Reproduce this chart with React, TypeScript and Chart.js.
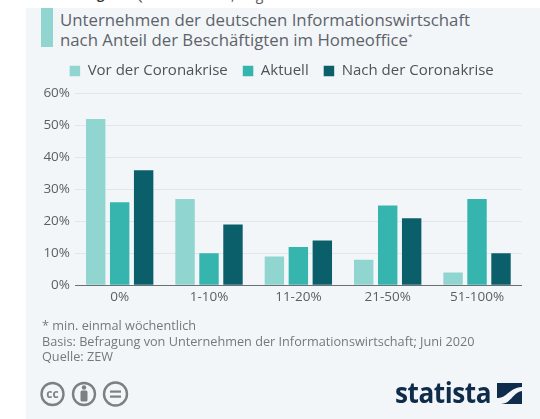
import React, { useEffect, useRef } from "react";
import { Chart, registerables } from "chart.js";

Chart.register(...registerables);

const categories = ["0%", "1-10%", "11-20%", "21-50%", "51-100%"];
const vorDerKrise = [52, 27, 9, 8, 4];
const aktuell = [26, 10, 12, 25, 27];
const nachDerKrise = [36, 19, 14, 21, 10];
const seriesNames = ["Vor der Coronakrise", "Aktuell", "Nach der Coronakrise"];
const titleLines = ["Unternehmen der deutschen Informationswirtschaft", "nach Anteil der Beschäftigten im Homeoffice"];
const footLines = ["* min. einmal wöchentlich", "Basis: Befragung von Unternehmen der Informationswirtschaft; Juni 2020", "Quelle: ZEW"];

const FONT = "'Open Sans', sans-serif";
const abs = (s: React.CSSProperties): React.CSSProperties => ({ position: "absolute", whiteSpace: "nowrap", ...s });

const legendHeight = {
  id: "legendHeight",
  beforeLayout(c: any) {
    const l = c.legend;
    if (!l || l.__patched) return;
    const fit = l.fit;
    l.fit = function () {
      fit.call(this);
      this.height = 45;
    };
    l.__patched = true;
  },
};

export default function App() {
  const ref = useRef<HTMLCanvasElement>(null);
  useEffect(() => {
    const chart = new Chart(ref.current!, {
      type: "bar",
      plugins: [legendHeight],
      data: {
        labels: categories,
        datasets: [
          { label: seriesNames[0], data: vorDerKrise, backgroundColor: "#90d5d0" },
          { label: seriesNames[1], data: aktuell, backgroundColor: "#36b5ae" },
          { label: seriesNames[2], data: nachDerKrise, backgroundColor: "#0b5f6b" },
        ],
      },
      options: {
        responsive: false,
        animation: false,
        layout: { padding: { left: 41.7, right: 18.3, top: 48.5, bottom: 109.5 } },
        datasets: { bar: { categoryPercentage: 0.805, barPercentage: 0.81 } },
        plugins: {
          tooltip: { enabled: false },
          legend: {
            display: true,
            position: "top",
            labels: {
              boxWidth: 10.5,
              boxHeight: 10.5,
              padding: 15,
              color: "#4d5359",
              font: { family: FONT, size: 15 },
            },
          },
        },
        scales: {
          x: {
            grid: { display: false, drawTicks: false },
            border: { color: "#6b7075", width: 1 },
            ticks: { color: "#5a5f64", font: { family: FONT, size: 13.5 }, padding: 4, maxRotation: 0 },
          },
          y: {
            min: 0,
            max: 60,
            afterFit: (s: any) => { s.width = 33.3; },
            grid: { color: "#e2e6ea", drawTicks: false },
            border: { display: false },
            ticks: {
              stepSize: 10,
              color: "#5a5f64",
              padding: 5,
              font: { family: FONT, size: 13.5 },
              callback: (v: any) => v + "%",
            },
          },
        },
      },
    } as any);
    return () => chart.destroy();
  }, []);

  return (
    <div style={{ position: "absolute", left: 0, top: 0, width: 540, height: 419, overflow: "hidden", background: "#fff", fontFamily: FONT, filter: "blur(0.55px)" }}>
      <div style={abs({ left: 24, top: -15, fontSize: 13, fontWeight: 700, color: "#333" })}>ZEW-Umfrage:</div>
      <div style={abs({ left: 133, top: -15, fontSize: 14, color: "#555" })}>Quelle: Statista, August 2020</div>
      <div style={abs({ left: 26, top: 8, width: 514, height: 411, background: "#f3f6f9" })} />
      <div style={abs({ left: 41, top: 8, width: 12, height: 39, background: "#90d5d0" })} />
      {titleLines.map((t, i) => (
        <div key={i} style={abs({ left: 60, top: 10 + i * 20, fontSize: 16.8, lineHeight: "20px", color: "#5d6369" })}>
          {t}{i === 1 ? <sup style={{ fontSize: 8, lineHeight: 0 }}>*</sup> : null}
        </div>
      ))}
      <canvas ref={ref} width={540} height={419} style={{ position: "absolute", left: 0, top: 0, display: "block" }} />
      {footLines.map((t, i) => (
        <div key={i} style={abs({ left: 42, top: 318 + i * 15.5, fontSize: 12.7, lineHeight: "15px", color: "#74797e" })}>{t}</div>
      ))}
      <svg width={540} height={419} style={{ position: "absolute", left: 0, top: 0 }}>
        <g fill="none" stroke="#7b8085" strokeWidth={2.4}>
          <circle cx={52.5} cy={394} r={11} />
          <circle cx={84} cy={394} r={11} />
          <circle cx={115.5} cy={394} r={11.5} />
        </g>
        <text x={52.5} y={398} textAnchor="middle" fontSize={12} fontWeight={700} fontFamily={FONT} fill="#7b8085">cc</text>
        <circle cx={84} cy={387.5} r={2.2} fill="#7b8085" />
        <rect x={80.5} y={390.5} width={7} height={11} rx={1.5} fill="#7b8085" />
        <rect x={110} y={390.5} width={11} height={2.2} fill="#7b8085" />
        <rect x={110} y={395.5} width={11} height={2.2} fill="#7b8085" />
        <rect x={497} y={383} width={25} height={21} fill="#0f2c4a" />
        <path d="M497 398 C507 399 508 388 522 387 L522 391 C513 392 511 404 501 404 L497 404 Z" fill="#f3f6f9" />
      </svg>
      <div style={abs({ left: 395, top: 373, fontSize: 28, fontWeight: 700, lineHeight: "38px", color: "#0f2c4a", letterSpacing: "-0.5px", transform: "scaleX(0.935)", transformOrigin: "left center" })}>statista</div>
    </div>
  );
}
